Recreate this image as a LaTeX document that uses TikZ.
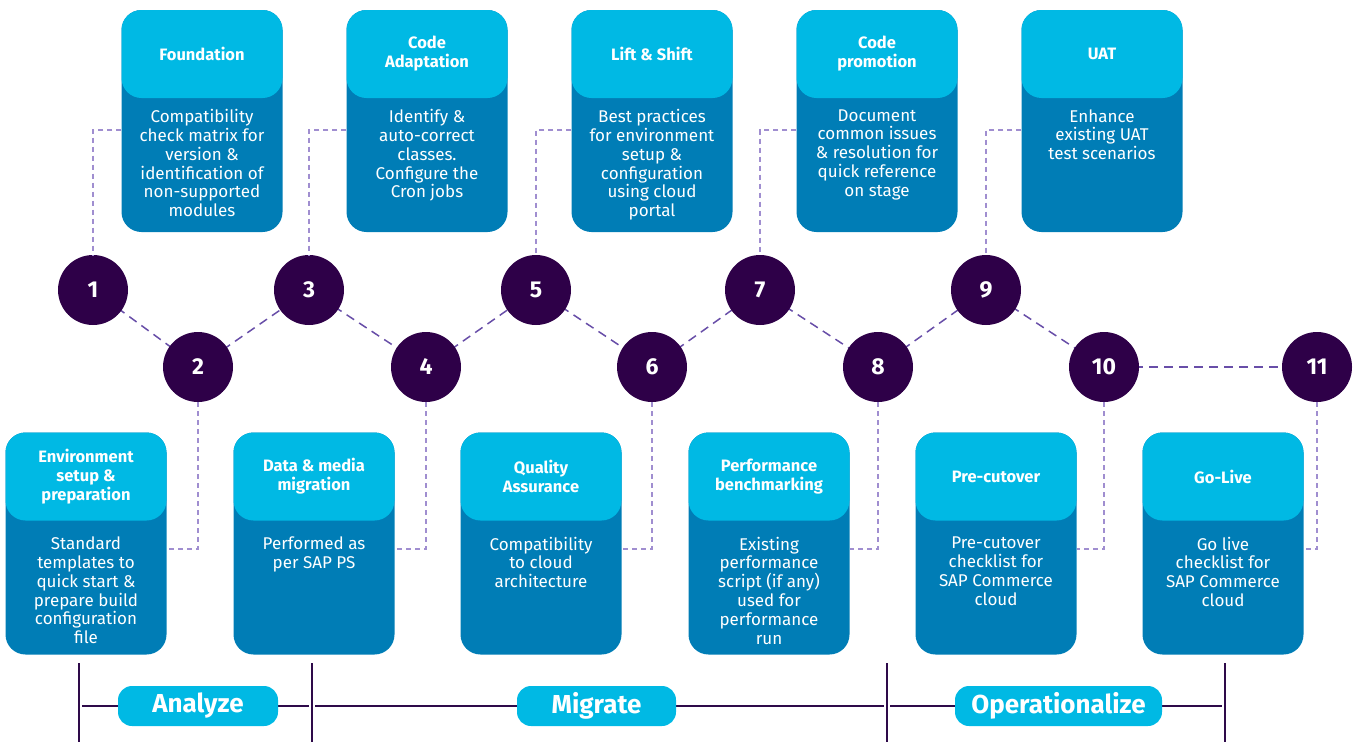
\documentclass[tikz,border=0pt]{standalone}
\usepackage{fontspec}
\setmainfont{Fira Sans}
\usetikzlibrary{positioning}

\definecolor{headcyan}{RGB}{0,185,228}
\definecolor{bodyblue}{RGB}{0,125,182}
\definecolor{stepdark}{RGB}{46,0,72}
\definecolor{pathpurple}{RGB}{104,78,168}
\definecolor{linklilac}{RGB}{160,142,208}
\definecolor{barpurple}{RGB}{46,10,74}

\tikzset{
  card/.style={fill=bodyblue, rounded corners=20pt, minimum width=161pt, minimum height=222pt, inner sep=0pt},
  cardhead/.style={fill=headcyan, rounded corners=20pt, minimum width=161pt, minimum height=88pt, inner sep=0pt,
    text=white, align=center, font=\bfseries\fontsize{16.5}{19}\selectfont},
  cardtext/.style={text=white, align=center, inner sep=0pt, anchor=north, font=\fontsize{17}{18.8}\selectfont},
  stepnum/.style={circle, fill=stepdark, minimum size=70pt, inner sep=0pt, text=white,
    font=\bfseries\fontsize{23}{23}\selectfont},
  stepdash/.style={draw=pathpurple, line width=1.5pt, dash pattern=on 9pt off 6pt},
  linkdash/.style={draw=linklilac, line width=1.3pt, dash pattern=on 5pt off 4pt},
  phasebar/.style={draw=barpurple, line width=2pt},
  phasepill/.style={fill=headcyan, rounded corners=14pt, minimum height=40pt, inner sep=0pt, text=white,
    font=\bfseries\fontsize{26}{26}\selectfont}
}

\begin{document}
\begin{tikzpicture}[x=1pt, y=-1pt]
  \useasboundingbox (0,0) rectangle (1355,742);

  % top row of cards
  \foreach \n/\x/\head/\body in {
      1/202/{Foundation}/{Compatibility\\check matrix for\\version \&\\identification of\\non-supported\\modules},
      2/427/{Code\\Adaptation}/{Identify \&\\auto-correct\\classes.\\Configure the\\Cron jobs},
      3/652/{Lift \& Shift}/{Best practices\\for environment\\setup \&\\configuration\\using cloud\\portal},
      4/877/{Code\\promotion}/{Document\\common issues\\\& resolution for\\quick reference\\on stage},
      5/1102/{UAT}/{Enhance\\existing UAT\\test scenarios}} {
    \node[card] (top\n) at (\x,121) {};
    \node[cardhead] (toph\n) at (\x,54) {\head};
    \node[cardtext, below=11pt of toph\n.south] (topt\n) {\body};
  }

  % bottom row of cards
  \foreach \n/\x/\head/\body in {
      1/86/{Environment\\setup \&\\preparation}/{Standard\\templates to\\quick start \&\\prepare build\\configuration\\file},
      2/314/{Data \& media\\migration}/{Performed as\\per SAP PS},
      3/541/{Quality\\Assurance}/{Compatibility\\to cloud\\architecture},
      4/769/{Performance\\benchmarking}/{Existing\\performance\\script (if any)\\used for\\performance\\run},
      5/996/{Pre-cutover}/{Pre-cutover\\checklist for\\SAP Commerce\\cloud},
      6/1223/{Go-Live}/{Go live\\checklist for\\SAP Commerce\\cloud}} {
    \node[card] (bot\n) at (\x,543.5) {};
    \node[cardhead] (both\n) at (\x,476.5) {\head};
    \node[cardtext, below=16pt of both\n.south] (bott\n) {\body};
  }

  % numbered steps
  \foreach \n/\x/\y in {1/93/290, 2/198/367, 3/309/290, 4/426/367, 5/536/290, 6/652/367,
      7/760/290, 8/878/367, 9/986/290, 10/1104/367, 11/1317/367}
    \coordinate (c\n) at (\x,\y);
  \foreach \a/\b in {1/2, 2/3, 3/4, 4/5, 5/6, 6/7, 7/8, 8/9, 9/10, 10/11}
    \draw[stepdash] (c\a) -- (c\b);
  \foreach \n in {1,...,11}
    \node[stepnum] (s\n) at (c\n) {\n};

  % links steps -> cards
  \foreach \t/\s in {1/1, 2/3, 3/5, 4/7, 5/9}
    \draw[linkdash] ([yshift=-9pt]top\t.west) -| (s\s.north);
  \foreach \s/\b in {2/1, 4/2, 6/3, 8/4, 10/5, 11/6}
    \draw[linkdash] (s\s.south) |- ([yshift=-5.5pt]bot\b.east);

  % phase bar
  \foreach \n/\x in {1/79, 2/312, 3/887, 4/1225} {
    \coordinate (v\n) at (\x,706);
    \draw[phasebar] (\x,663) -- (\x,742);
  }
  \foreach \a/\b in {1/2, 2/3, 3/4}
    \draw[phasebar, shorten <=3pt, shorten >=3pt] (v\a) -- (v\b);
  \node[phasepill, minimum width=160pt] (p1) at (198,706) {Analyze};
  \node[phasepill, minimum width=159pt] (p2) at (596.5,706) {Migrate};
  \node[phasepill, minimum width=207pt] (p3) at (1058.5,706) {Operationalize};
\end{tikzpicture}
\end{document}
